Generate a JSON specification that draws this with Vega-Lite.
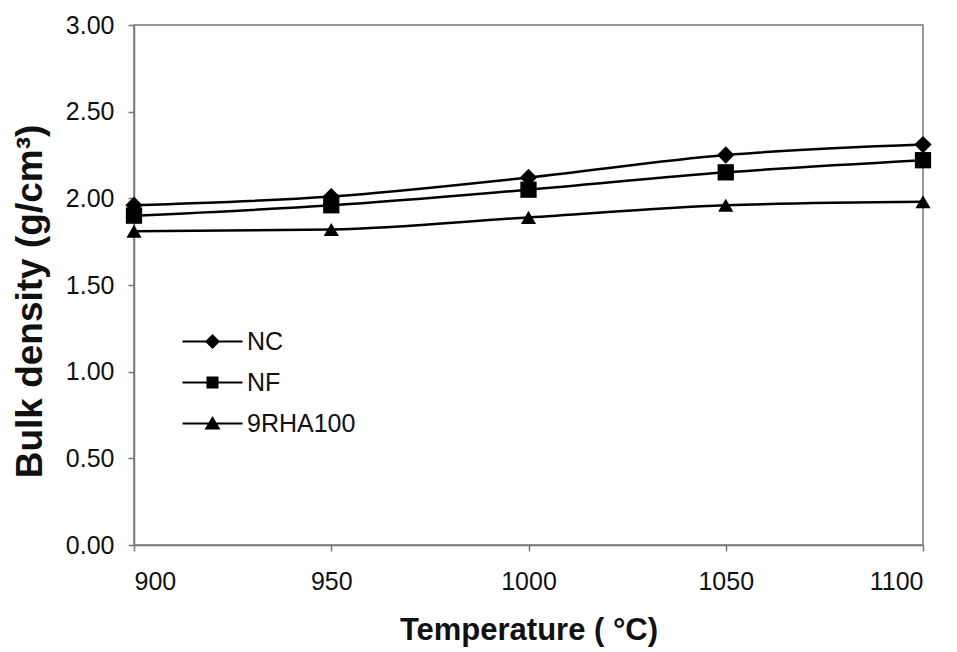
{
  "$schema": "https://vega.github.io/schema/vega-lite/v6.json",
  "autosize": {"type": "none"},
  "width": 789,
  "height": 520,
  "padding": {"left": 134, "top": 25, "right": 34, "bottom": 107},
  "background": "white",
  "config": {
    "font": "Liberation Sans",
    "view": {"stroke": "#777777", "strokeWidth": 1.5},
    "axis": {"grid": false, "domainColor": "#777777", "tickColor": "#777777", "domainWidth": 1.5, "tickWidth": 1.5, "tickSize": 6, "labelFont": "Liberation Sans", "labelFontSize": 25, "labelColor": "#111111", "titleFont": "Liberation Sans", "titleFontWeight": "bold", "titleColor": "#111111"}
  },
  "data": {"values": [
    {"Temperature": 900, "Density": 1.96, "Series": "NC"},
    {"Temperature": 950, "Density": 2.01, "Series": "NC"},
    {"Temperature": 1000, "Density": 2.12, "Series": "NC"},
    {"Temperature": 1050, "Density": 2.25, "Series": "NC"},
    {"Temperature": 1100, "Density": 2.31, "Series": "NC"},
    {"Temperature": 900, "Density": 1.90, "Series": "NF"},
    {"Temperature": 950, "Density": 1.96, "Series": "NF"},
    {"Temperature": 1000, "Density": 2.05, "Series": "NF"},
    {"Temperature": 1050, "Density": 2.15, "Series": "NF"},
    {"Temperature": 1100, "Density": 2.22, "Series": "NF"},
    {"Temperature": 900, "Density": 1.81, "Series": "9RHA100"},
    {"Temperature": 950, "Density": 1.82, "Series": "9RHA100"},
    {"Temperature": 1000, "Density": 1.89, "Series": "9RHA100"},
    {"Temperature": 1050, "Density": 1.96, "Series": "9RHA100"},
    {"Temperature": 1100, "Density": 1.98, "Series": "9RHA100"}
  ]},
  "encoding": {
    "x": {"field": "Temperature", "type": "quantitative", "scale": {"domain": [900, 1100], "nice": false, "zero": false},
      "axis": {"values": [900, 950, 1000, 1050, 1100], "format": "d", "title": "Temperature ( °C)", "titleFontSize": 31, "labelPadding": 18, "titlePadding": 21}},
    "y": {"field": "Density", "type": "quantitative", "scale": {"domain": [0, 3], "nice": false},
      "axis": {"values": [0, 0.5, 1, 1.5, 2, 2.5, 3], "format": ".2f", "title": "Bulk density (g/cm³)", "titleFontSize": 37, "titleY": 276, "labelPadding": 14, "titlePadding": 16}}
  },
  "layer": [
    {
      "mark": {"type": "line", "interpolate": "monotone", "color": "black", "strokeWidth": 2.5},
      "encoding": {"detail": {"field": "Series"}}
    },
    {
      "mark": {"type": "point", "filled": true, "color": "black", "opacity": 1},
      "encoding": {
        "shape": {"field": "Series", "type": "nominal", "scale": {"domain": ["NC", "NF", "9RHA100"], "range": ["diamond", "square", "triangle-up"]}, "legend": null},
        "size": {"field": "Series", "type": "nominal", "scale": {"domain": ["NC", "NF", "9RHA100"], "range": [300, 230, 290]}, "legend": null}
      }
    },
    {
      "mark": {"type": "point", "filled": true, "color": "black", "opacity": 0},
      "encoding": {
        "shape": {"field": "Series", "type": "nominal",
          "scale": {"domain": ["NC", "NF", "9RHA100"], "range": [
            "M-3,-0.11L3,-0.11L3,0.11L-3,0.11ZM0,-0.75L0.75,0L0,0.75L-0.75,0Z",
            "M-3,-0.11L3,-0.11L3,0.11L-3,0.11ZM-0.6,-0.6L0.6,-0.6L0.6,0.6L-0.6,0.6Z",
            "M-3,-0.11L3,-0.11L3,0.11L-3,0.11ZM0,-0.75L0.8,0.6L-0.8,0.6Z"]},
          "legend": {"title": null, "orient": "none", "legendX": 66, "legendY": 304, "symbolSize": 400, "symbolOpacity": 1, "labelFontSize": 25, "labelFont": "Liberation Sans", "labelColor": "#111111", "labelOffset": 22, "rowPadding": 15,
            "encode": {"symbols": {"update": {"fill": {"value": "black"}, "opacity": {"value": 1}, "fillOpacity": {"value": 1}}}}}
        }
      }
    }
  ],
  "resolve": {"scale": {"shape": "independent"}}
}
